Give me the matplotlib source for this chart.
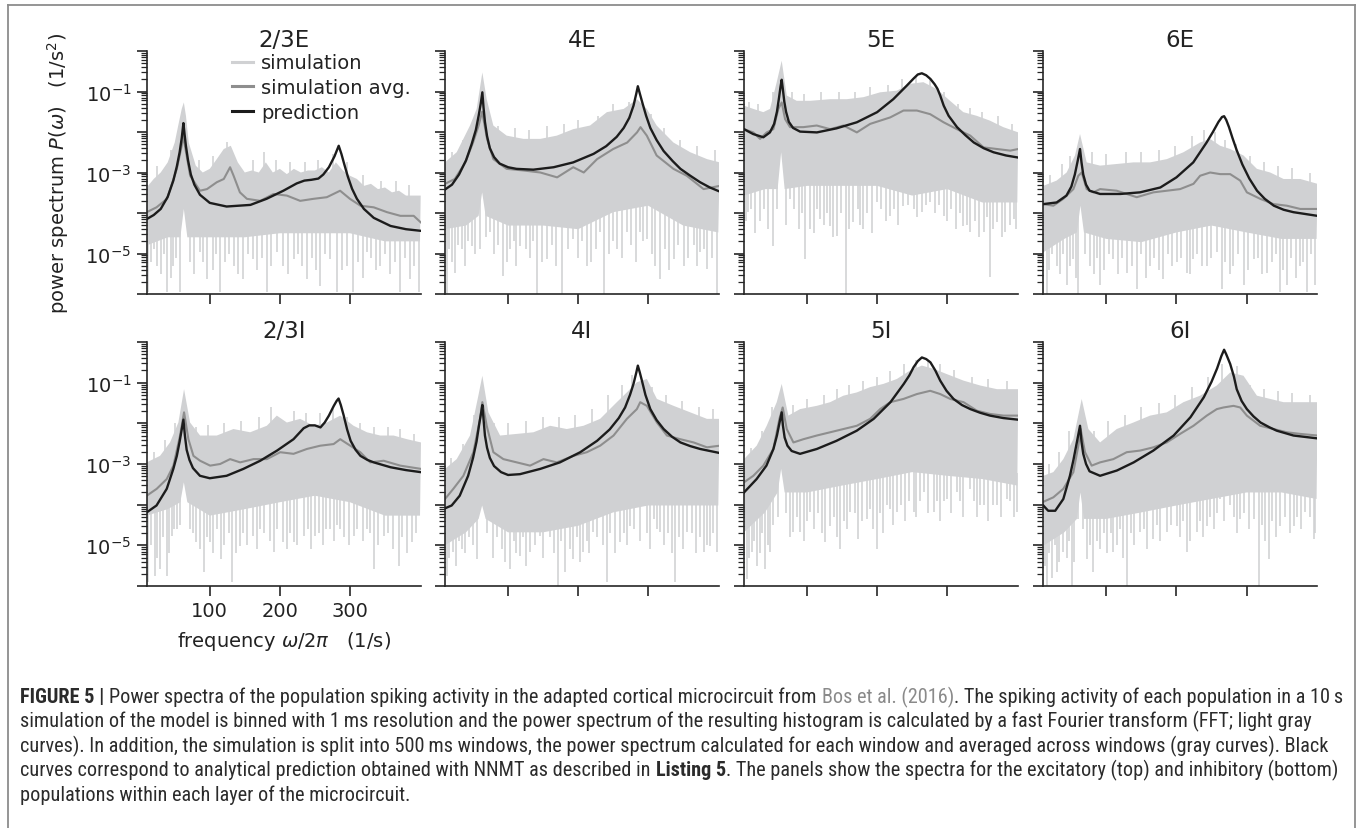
import numpy as np
import matplotlib
matplotlib.use('Agg')
import matplotlib.pyplot as plt
from matplotlib.lines import Line2D
import matplotlib.transforms as mtransforms
from matplotlib.ticker import LogLocator, NullFormatter

plt.rcParams['font.family'] = ['DejaVu Sans']
plt.rcParams['mathtext.fontset'] = 'dejavusans'

# ---------------- data (values as log10 of power, 1/s^2) ----------------
panel_titles = ['2/3E', '4E', '5E', '6E', '2/3I', '4I', '5I', '6I']
x_ticks = [100, 200, 300]
y_tick_exps = [-6, -5, -4, -3, -2, -1, 0]
y_tick_labels = ['', '$10^{-5}$', '', '$10^{-3}$', '', '$10^{-1}$', '']
legend_labels = ['simulation', 'simulation avg.', 'prediction']
floor_f = [10, 40, 58, 63, 68, 100, 150, 200, 250, 300, 350, 400]

# 2/3E
pred_23E_f = [10, 20, 30, 40, 48, 53, 57, 60, 62.4, 64, 66, 69, 73, 78, 86, 100, 124, 158, 181, 205, 224, 235, 245, 255, 262, 270, 278, 284, 288, 292, 297, 303, 310, 320, 334, 358, 380, 401]
pred_23E_v = [-4.15, -4.05, -3.9, -3.6, -3.2, -2.85, -2.5, -2.15, -1.78, -2.05, -2.35, -2.7, -3.05, -3.3, -3.55, -3.75, -3.84, -3.80, -3.65, -3.45, -3.27, -3.2, -3.18, -3.15, -3.05, -2.87, -2.6, -2.34, -2.55, -2.8, -3.1, -3.4, -3.65, -3.9, -4.12, -4.32, -4.4, -4.44]
avg_23E_f = [10, 24, 39, 53, 60, 62, 72, 86, 96, 110, 120, 129, 134, 143, 153, 172, 191, 210, 229, 248, 267, 286, 300, 315, 334, 353, 372, 391, 401]
avg_23E_v = [-3.98, -3.86, -3.65, -2.91, -2.34, -2.09, -3.08, -3.45, -3.41, -3.24, -3.16, -2.87, -3.08, -3.49, -3.65, -3.70, -3.53, -3.57, -3.70, -3.65, -3.61, -3.45, -3.65, -3.82, -3.86, -3.98, -4.07, -4.07, -4.23]
top_23E_f = [10, 20, 30, 40, 50, 55, 60, 63, 66, 70, 80, 90, 100, 110, 120, 130, 140, 150, 160, 170, 180, 190, 200, 210, 220, 230, 240, 250, 260, 270, 280, 290, 300, 310, 320, 330, 340, 350, 360, 370, 380, 390, 401]
top_23E_v = [-3.37, -3.16, -3.0, -2.75, -2.26, -1.84, -1.43, -1.27, -1.60, -2.26, -2.83, -3.0, -2.91, -2.67, -2.42, -2.34, -2.75, -3.0, -2.95, -3.0, -2.75, -3.0, -2.91, -3.04, -2.91, -3.0, -2.95, -2.95, -2.87, -3.0, -2.75, -2.95, -3.08, -3.16, -3.33, -3.28, -3.41, -3.37, -3.49, -3.45, -3.57, -3.57, -3.57]
floor_23E = [-4.8, -4.6, -4.6, -3.9, -4.6, -4.6, -4.6, -4.5, -4.5, -4.5, -4.7, -4.7]
dips_23E_f = [12, 24, 39, 48, 58, 86, 96, 115, 134, 148, 162, 181, 196, 205, 219.5, 239, 258, 272, 281, 296, 305, 324, 343, 372, 386, 398,
              16, 20, 30, 35, 44, 52, 72, 78, 90, 104, 109, 122, 128, 140, 155, 168, 175, 188, 212, 226, 232, 246, 252, 265, 288, 312, 318, 330, 337, 350, 357, 365, 379, 392]
dips_23E_v = [-5.96, -5.3, -5.96, -5.3, -5.96, -4.97, -5.63, -5.96, -5.3, -5.63, -5.14, -5.96, -4.97, -5.3, -5.14, -5.63, -5.8, -5.14, -5.96, -5.3, -5.96, -4.97, -5.3, -5.96, -5.63, -5.96,
              -5.2, -4.9, -5.5, -5.0, -5.6, -5.1, -5.2, -5.5, -5.2, -5.4, -5.0, -5.2, -5.0, -5.5, -5.0, -5.4, -5.1, -5.3, -5.5, -5.0, -5.3, -5.1, -5.4, -5.0, -5.4, -5.2, -5.6, -5.1, -5.4, -5.0, -5.5, -5.2, -5.1, -5.3]
ups_23E_f = [25, 45, 85, 105, 125, 162, 178, 195, 215, 236, 255, 276, 296, 318, 345, 366, 385]
ups_23E_v = [-2.85, -2.45, -2.7, -2.6, -2.25, -2.7, -2.5, -2.7, -2.75, -2.75, -2.7, -2.55, -2.75, -3.05, -3.2, -3.2, -3.3]

# 4E
pred_4E_f = [10, 20, 30, 40, 48, 54, 58, 61, 63.3, 65, 67, 70, 74, 80, 88, 100, 112, 136, 165, 193, 222, 240, 255, 265, 273, 279, 283, 285.2, 288, 292, 297, 303, 312, 322, 335, 346, 360, 374, 388, 402]
pred_4E_v = [-3.42, -3.3, -3.05, -2.7, -2.3, -1.95, -1.6, -1.3, -1.02, -1.4, -1.75, -2.1, -2.4, -2.62, -2.78, -2.87, -2.91, -2.93, -2.87, -2.75, -2.54, -2.35, -2.12, -1.9, -1.65, -1.35, -1.05, -0.87, -1.05, -1.3, -1.6, -1.9, -2.2, -2.47, -2.72, -2.91, -3.08, -3.24, -3.37, -3.47]
avg_4E_f = [10, 24, 39, 50, 58, 63, 70, 79, 98, 122, 146, 170, 193, 208, 227, 250, 270, 284, 289, 298, 312, 336, 355, 379, 402]
avg_4E_v = [-3.28, -3.16, -2.75, -2.26, -1.84, -1.5, -2.17, -2.67, -2.91, -2.95, -3.0, -3.12, -2.87, -3.0, -2.67, -2.42, -2.26, -2.01, -1.88, -2.09, -2.58, -2.91, -3.08, -3.41, -3.33]
top_4E_f = [10, 26.7, 45.7, 55.2, 63.3, 69.5, 79, 98, 122, 146, 169.5, 193, 217, 241, 265, 284, 298, 312, 336, 360, 384, 402]
top_4E_v = [-2.75, -2.50, -1.84, -1.43, -0.53, -1.19, -1.84, -2.09, -2.17, -2.17, -2.09, -1.93, -1.84, -1.51, -1.43, -1.19, -1.43, -1.84, -2.26, -2.50, -2.67, -2.75]
floor_4E = [-4.40, -4.31, -4.07, -3.49, -4.07, -4.31, -4.31, -4.40, -3.98, -3.82, -4.31, -4.48]
dips_4E_f = [12.4, 24.3, 33.8, 48.1, 60, 74.3, 93.3, 102.9, 117.1, 141, 155.2, 176.7, 193.3, 212.4, 231.4, 236.2, 255.2, 269.5, 288.6, 298.1, 317.1, 336.2, 350.5, 374.3, 383.8, 398.1,
             16, 20, 29, 38, 43, 53, 68, 80, 86, 98, 108, 112, 125, 131, 136, 148, 162, 168, 185, 200, 206, 218, 225, 244, 250, 262, 276, 282, 293, 305, 310, 324, 330, 343, 357, 365, 370, 379, 391]
dips_4E_v = [-6.0, -5.47, -4.89, -4.81, -4.89, -4.48, -5.55, -4.89, -4.81, -6.0, -5.14, -6.0, -4.64, -5.30, -4.48, -6.0, -4.89, -4.48, -4.48, -4.64, -5.63, -5.14, -5.30, -4.97, -5.38, -6.0,
             -4.9, -5.2, -4.8, -5.3, -4.7, -5.0, -4.6, -5.0, -4.8, -5.2, -4.7, -5.3, -4.9, -5.1, -4.7, -5.2, -4.8, -5.3, -4.9, -5.1, -4.7, -5.2, -4.9, -5.0, -4.7, -5.1, -4.8, -5.2, -4.7, -5.0, -5.3, -4.9, -5.4, -4.8, -5.1, -4.8, -5.3, -4.9, -5.1]
ups_4E_f = [20, 35, 50, 85, 110, 130, 155, 180, 200, 228, 250, 272, 304, 322, 345, 370, 395]
ups_4E_v = [-2.5, -2.2, -1.7, -1.85, -1.9, -1.95, -1.85, -1.8, -1.7, -1.6, -1.3, -1.25, -1.55, -1.9, -2.2, -2.35, -2.45]

# 5E
pred_5E_f = [10, 23, 37.6, 47, 53, 57, 60, 62, 63.8, 65.5, 67.5, 70, 74, 80, 90, 114, 142, 171, 200, 223, 242, 252, 258, 263.8, 270, 276, 282, 286, 290, 295, 302, 314, 326, 338, 352, 366, 384, 401]
pred_5E_v = [-1.93, -2.05, -2.13, -2.01, -1.8, -1.5, -1.15, -0.9, -0.71, -0.95, -1.25, -1.5, -1.75, -1.9, -1.99, -2.01, -1.91, -1.76, -1.51, -1.19, -0.86, -0.68, -0.58, -0.55, -0.6, -0.69, -0.82, -0.93, -1.1, -1.35, -1.6, -1.88, -2.08, -2.26, -2.4, -2.50, -2.58, -2.63]
avg_5E_f = [10, 23.3, 32.9, 42.4, 51.9, 59, 63.8, 68.6, 75.7, 94.8, 113.8, 132.9, 151.9, 171, 190, 204.3, 218.6, 237.6, 256.7, 275.7, 294.8, 313.8, 332.9, 351.9, 371, 390, 401.4]
avg_5E_v = [-1.93, -2.01, -2.17, -2.01, -1.93, -1.43, -1.27, -1.68, -1.88, -1.88, -1.84, -1.93, -1.84, -2.01, -1.80, -1.72, -1.64, -1.47, -1.47, -1.56, -1.76, -1.93, -2.09, -2.38, -2.42, -2.46, -2.42]
top_5E_f = [10, 23.3, 37.6, 47.1, 56.7, 63.8, 71, 85.2, 104.3, 132.9, 156.7, 180.5, 204.3, 228, 247, 266, 285, 304, 323, 342, 361, 380, 401.4]
top_5E_v = [-1.35, -1.43, -1.51, -1.43, -0.77, -0.24, -1.10, -1.23, -1.23, -1.19, -1.19, -1.14, -1.02, -0.98, -0.81, -0.77, -0.94, -1.23, -1.51, -1.60, -1.72, -1.88, -2.01]
floor_5E = [-3.57, -3.41, -3.41, -2.5, -3.41, -3.33, -3.33, -3.33, -3.57, -3.41, -3.74, -3.74]
dips_5E_f = [16, 33, 52, 76, 97, 104, 118.6, 133, 142, 155.7, 166, 180.5, 199.5, 218.6, 237.6, 252, 263.8, 275.7, 294.8, 323, 333, 352, 361.4, 371, 383, 394.8,
             13, 20, 26, 38, 44, 57, 70, 82, 88, 93, 110, 114, 124, 128, 137, 148, 160, 172, 176, 186, 192, 206, 212, 224, 230, 244, 257, 270, 282, 288, 300, 306, 312, 318, 328, 340, 346, 357, 366, 378, 389, 398]
dips_5E_v = [-3.98, -4.19, -4.81, -3.65, -5.14, -4.40, -4.15, -4.31, -4.56, -6.0, -4.23, -4.40, -3.74, -4.07, -3.82, -3.90, -3.98, -3.74, -4.07, -4.31, -4.48, -4.48, -5.59, -4.23, -4.48, -4.15,
             -4.2, -3.9, -4.5, -3.9, -4.4, -3.9, -4.3, -3.9, -4.4, -4.0, -4.5, -3.9, -4.3, -4.0, -4.6, -4.0, -4.4, -3.9, -4.3, -4.0, -4.5, -3.9, -4.2, -3.9, -4.3, -3.8, -4.1, -3.8, -4.0, -3.8, -4.2, -3.9, -4.4, -4.0, -4.3, -4.2, -4.6, -4.1, -4.4, -4.6, -4.3, -4.4]
ups_5E_f = [17, 30, 52, 78, 95, 120, 145, 168, 190, 215, 235, 255, 275, 295, 315, 332, 350, 372, 392]
ups_5E_v = [-1.25, -1.3, -1.0, -1.0, -1.05, -1.0, -1.0, -1.0, -0.9, -0.85, -0.7, -0.62, -0.7, -1.0, -1.3, -1.4, -1.5, -1.6, -1.8]

# 6E
pred_6E_f = [10, 29, 43, 50, 55, 59, 62.4, 64.5, 67, 71, 76, 91, 120, 148, 177, 200, 224, 243, 252, 260, 265, 268, 271, 275, 280, 286, 294, 304, 315, 326, 339, 353, 367, 401]
pred_6E_v = [-3.78, -3.74, -3.57, -3.35, -3.05, -2.72, -2.42, -2.75, -3.05, -3.3, -3.45, -3.53, -3.53, -3.49, -3.37, -3.12, -2.75, -2.26, -2.0, -1.75, -1.63, -1.61, -1.7, -1.88, -2.15, -2.45, -2.8, -3.15, -3.45, -3.65, -3.82, -3.92, -3.98, -4.07]
avg_6E_f = [10, 24.3, 38.6, 52.9, 60, 64.8, 71.9, 81.4, 91, 114.8, 143.3, 167.1, 186.2, 205.2, 224.3, 233.8, 248.1, 262.4, 276.7, 291, 300.5, 319.5, 338.6, 357.6, 376.7, 401.4]
avg_6E_v = [-3.78, -3.82, -3.65, -3.41, -3.08, -3.0, -3.41, -3.49, -3.41, -3.45, -3.61, -3.49, -3.45, -3.41, -3.28, -3.08, -3.0, -3.04, -3.04, -3.20, -3.49, -3.65, -3.78, -3.82, -3.90, -3.90]
top_6E_f = [10, 29, 43.3, 55.2, 62.4, 71.9, 91, 114.8, 138.6, 162.4, 186.2, 210, 233.8, 248, 262.4, 276.7, 295.7, 314.8, 333.8, 352.9, 376.7, 401.4]
top_6E_v = [-3.33, -3.20, -3.0, -2.58, -2.05, -2.75, -2.83, -2.79, -2.75, -2.75, -2.67, -2.50, -2.26, -2.17, -2.34, -2.42, -2.58, -2.91, -3.0, -3.16, -3.16, -3.28]
floor_6E = [-4.97, -4.64, -4.48, -3.82, -4.48, -4.64, -4.72, -4.48, -4.31, -4.48, -4.64, -4.64]
dips_6E_f = [14.8, 29, 43.3, 52.9, 60, 76.7, 91, 110, 129, 143.3, 162.4, 181.4, 200.5, 214.8, 224.3, 243.3, 257.6, 264.8, 281.4, 295.7, 310, 329, 348.1, 357.6, 376.7, 386.2, 398.1,
             18, 22, 34, 38, 48, 56, 70, 82, 86, 97, 104, 116, 122, 136, 150, 156, 168, 175, 188, 194, 207, 219, 230, 237, 250, 270, 276, 288, 302, 316, 322, 336, 342, 352, 364, 370, 381, 392]
dips_6E_v = [-6.0, -5.30, -5.79, -5.14, -6.0, -5.30, -5.79, -5.14, -5.47, -5.88, -5.30, -5.63, -5.22, -5.47, -5.14, -5.30, -4.97, -5.88, -5.30, -5.79, -5.14, -5.47, -5.96, -5.79, -5.30, -5.96, -5.79,
             -5.4, -5.0, -5.5, -5.0, -5.3, -5.6, -5.0, -5.5, -5.1, -5.4, -5.0, -5.5, -5.1, -5.3, -5.0, -5.6, -5.1, -5.4, -5.0, -5.3, -5.1, -5.5, -5.0, -5.3, -5.1, -5.2, -5.5, -5.0, -5.4, -5.1, -5.5, -5.2, -5.0, -5.4, -5.1, -5.6, -5.2, -5.0]
ups_6E_f = [20, 36, 48, 80, 100, 128, 150, 175, 198, 222, 240, 255, 270, 285, 305, 325, 345, 365, 390]
ups_6E_v = [-3.05, -2.8, -2.6, -2.5, -2.55, -2.5, -2.5, -2.45, -2.35, -2.1, -1.95, -2.0, -2.2, -2.3, -2.6, -2.75, -2.85, -2.9, -3.0]

# 2/3I
pred_23I_f = [10, 24, 38.6, 48, 53, 57, 60, 62.4, 64.5, 67, 71, 76, 86, 100, 124, 148, 172, 196, 219.5, 234, 242, 250, 258, 264, 270, 277, 281, 283.8, 287, 291, 296, 301, 308, 315, 325, 334, 358, 380, 401]
pred_23I_v = [-4.19, -4.02, -3.61, -3.12, -2.8, -2.45, -2.15, -1.91, -2.3, -2.65, -2.9, -3.1, -3.29, -3.35, -3.29, -3.12, -2.92, -2.67, -2.39, -2.12, -2.05, -2.05, -2.10, -1.98, -1.81, -1.57, -1.45, -1.39, -1.55, -1.8, -2.15, -2.43, -2.65, -2.80, -2.9, -2.96, -3.08, -3.15, -3.20]
avg_23I_f = [10, 24.3, 38.6, 48.1, 57.6, 63.3, 69.5, 76.7, 86.2, 100.5, 114.8, 129, 143.3, 162.4, 181.4, 200.5, 219.5, 238.6, 257.6, 276.7, 286.2, 300.5, 314.8, 329, 348.1, 371.9, 401.4]
avg_23I_v = [-3.78, -3.61, -3.37, -3.04, -2.30, -1.73, -2.39, -2.80, -2.92, -3.04, -3.0, -2.88, -2.96, -2.88, -2.88, -2.71, -2.75, -2.63, -2.55, -2.51, -2.39, -2.55, -2.71, -2.96, -2.92, -3.04, -3.12]
top_23I_f = [10, 29, 43.3, 55.2, 63.3, 71.9, 86.2, 110, 133.8, 157.6, 181.4, 195.7, 210, 229, 248.1, 267.1, 286.2, 305.2, 324.3, 343.3, 362.4, 381.4, 401.4]
top_23I_v = [-2.96, -2.80, -2.47, -1.98, -1.16, -1.98, -2.30, -2.30, -2.14, -2.22, -2.06, -1.81, -1.98, -1.89, -2.06, -1.98, -1.81, -2.06, -2.22, -2.30, -2.30, -2.39, -2.47]
floor_23I = [-4.27, -4.11, -3.94, -3.45, -3.94, -4.27, -4.11, -3.94, -3.78, -3.94, -4.27, -4.27]
dips_23I_f = [12.4, 21.9, 29, 38.6, 45.7, 52.9, 71.4, 81, 91.4, 100, 116.7, 132.4, 143.3, 162.4, 171.9, 191, 205.2, 219.5, 233.8, 250.5, 271.9, 286.2, 305.2, 324.3, 333.8, 348.1, 369.5, 388.6,
              16, 25, 33, 42, 49, 57, 76, 86, 96, 105, 111, 121, 127, 138, 148, 153, 167, 177, 186, 196, 210, 214, 225, 240, 245, 256, 262, 266, 277, 281, 292, 298, 310, 318, 329, 340, 355, 362, 375, 381, 395]
dips_23I_v = [-5.91, -5.75, -5.58, -5.75, -4.76, -4.60, -4.60, -4.93, -5.66, -4.93, -5.34, -5.91, -5.01, -4.76, -4.60, -5.17, -4.93, -4.93, -4.76, -4.76, -4.60, -4.60, -4.76, -4.60, -5.58, -4.76, -5.50, -4.93,
              -5.0, -5.3, -4.8, -5.2, -4.6, -4.5, -4.7, -5.1, -4.8, -5.2, -4.6, -5.0, -4.7, -5.2, -4.7, -5.0, -5.1, -4.7, -4.9, -4.6, -5.1, -4.7, -5.0, -4.6, -5.1, -4.7, -5.0, -4.6, -4.9, -4.5, -4.8, -5.0, -4.6, -4.9, -4.7, -5.0, -4.7, -5.1, -4.8, -5.2, -4.7]
ups_23I_f = [20, 36, 50, 80, 98, 120, 145, 170, 188, 220, 238, 258, 276, 296, 315, 335, 355, 372, 392]
ups_23I_v = [-2.7, -2.4, -2.0, -2.1, -2.05, -2.0, -1.95, -1.85, -1.6, -1.7, -1.75, -1.75, -1.65, -1.85, -2.0, -2.1, -2.1, -2.15, -2.25]

# 4I
pred_4I_f = [10, 19.5, 31, 43, 50, 55, 59, 61.5, 63.3, 65, 67, 70, 74, 80, 90, 100, 117, 146, 174, 203, 227, 245, 258, 267, 274, 279, 283, 285.2, 288, 291, 296, 303, 312, 322, 334, 346, 360, 374, 402]
pred_4I_v = [-4.09, -4.02, -3.78, -3.29, -2.85, -2.45, -2.0, -1.75, -1.55, -1.9, -2.3, -2.6, -2.85, -3.05, -3.2, -3.27, -3.25, -3.12, -2.96, -2.71, -2.43, -2.15, -1.87, -1.61, -1.3, -1.03, -0.75, -0.58, -0.75, -0.95, -1.3, -1.65, -1.92, -2.14, -2.33, -2.47, -2.56, -2.63, -2.73]
avg_4I_f = [10, 21.9, 36.2, 50.5, 60, 63.3, 69.5, 79, 93.3, 112.4, 131.4, 150.5, 169.5, 193.3, 212.4, 231.4, 250.5, 269.5, 283.8, 288.6, 298.1, 312.4, 326.7, 345.7, 364.8, 383.8, 401.9]
avg_4I_v = [-3.86, -3.61, -3.29, -2.71, -1.89, -1.48, -2.06, -2.71, -2.88, -2.96, -3.04, -2.88, -2.96, -2.80, -2.71, -2.55, -2.30, -1.89, -1.65, -1.48, -1.57, -1.98, -2.30, -2.39, -2.47, -2.59, -2.55]
top_4I_f = [10, 26.7, 45.7, 57.6, 63.3, 71.9, 88.6, 112.4, 136.2, 160, 183.8, 207.6, 231.4, 255.2, 269.5, 283.8, 298.1, 312.4, 336.2, 360, 383.8, 401.9]
top_4I_v = [-3.12, -2.88, -2.30, -1.32, -0.83, -1.73, -2.30, -2.26, -2.22, -2.06, -2.14, -2.06, -1.89, -1.48, -1.24, -0.99, -0.91, -1.40, -1.57, -1.73, -1.89, -1.89]
floor_4I = [-5.0, -4.68, -4.35, -4.02, -4.35, -4.68, -4.68, -4.52, -4.19, -4.02, -4.02, -4.02]
dips_4I_f = [12.4, 21.9, 33.8, 55.2, 74.3, 91, 102.9, 117.1, 131.4, 145.7, 155.2, 171.9, 181.4, 193.3, 207.6, 221.9, 240.9, 260, 274.3, 293.3, 307.6, 317.1, 338.6, 355.2, 379, 388.6, 398.1,
             16, 26, 30, 38, 44, 50, 70, 78, 84, 96, 108, 112, 122, 126, 138, 150, 160, 166, 176, 188, 198, 202, 212, 216, 227, 235, 246, 252, 265, 270, 280, 288, 298, 302, 312, 322, 328, 334, 344, 350, 362, 368, 374, 384, 393]
dips_4I_v = [-5.75, -5.17, -5.09, -5.34, -4.19, -5.09, -5.58, -5.25, -5.17, -4.76, -4.52, -5.99, -5.66, -5.34, -5.17, -4.68, -5.91, -4.93, -4.52, -4.02, -4.35, -4.68, -5.91, -4.68, -5.17, -5.01, -5.17,
             -5.3, -5.5, -4.9, -5.2, -4.8, -5.0, -4.7, -5.3, -4.8, -5.4, -4.9, -5.2, -4.8, -5.5, -5.0, -5.3, -4.8, -5.2, -4.9, -5.1, -4.8, -5.4, -4.9, -5.2, -4.8, -5.0, -4.7, -5.2, -4.7, -5.0, -4.6, -4.9, -4.7, -5.1, -4.6, -5.0, -4.7, -5.2, -4.8, -5.1, -4.7, -5.2, -4.8, -5.0, -4.7]
ups_4I_f = [18, 36, 52, 80, 100, 125, 150, 172, 196, 220, 243, 262, 277, 305, 325, 348, 372, 392]
ups_4I_v = [-2.85, -2.5, -1.8, -2.0, -2.0, -1.95, -1.85, -1.85, -1.8, -1.65, -1.3, -1.05, -0.8, -1.1, -1.3, -1.45, -1.6, -1.65]

# 5I
pred_5I_f = [10, 28, 42, 52, 57, 60.5, 63.8, 65.5, 68, 72, 78, 90, 114, 142, 171, 195, 219, 238, 246, 252, 258, 263.8, 270, 276, 283, 290, 299, 309, 321, 333, 347, 361, 380, 401]
pred_5I_v = [-3.70, -3.37, -3.04, -2.63, -2.3, -2.0, -1.73, -2.05, -2.35, -2.55, -2.68, -2.75, -2.63, -2.43, -2.18, -1.89, -1.48, -1.03, -0.82, -0.62, -0.47, -0.38, -0.42, -0.50, -0.7, -0.95, -1.2, -1.40, -1.55, -1.65, -1.74, -1.81, -1.87, -1.91]
avg_5I_f = [10, 23.3, 37.6, 51.9, 60.5, 65.2, 71, 80.5, 94.8, 113.8, 132.9, 151.9, 171, 190, 204.3, 218.6, 237.6, 256.7, 275.7, 290, 304.3, 323.3, 342.4, 361.4, 380.5, 401.4]
avg_5I_v = [-3.45, -3.29, -3.04, -2.63, -1.89, -1.61, -2.14, -2.47, -2.39, -2.30, -2.22, -2.14, -2.06, -1.89, -1.65, -1.48, -1.40, -1.28, -1.20, -1.28, -1.40, -1.48, -1.69, -1.77, -1.81, -1.81]
top_5I_f = [10, 28.1, 42.4, 56.7, 63.8, 73.3, 90, 113.8, 132.9, 151.9, 171, 190, 209, 228.1, 247.1, 263.8, 280.5, 299.5, 323.3, 347.1, 371, 401.4]
top_5I_v = [-2.88, -2.55, -2.06, -1.48, -1.03, -1.81, -1.65, -1.57, -1.48, -1.32, -1.24, -1.11, -1.03, -0.91, -0.70, -0.58, -0.66, -0.79, -0.95, -1.07, -1.16, -1.16]
floor_5I = [-4.68, -4.19, -3.70, -3.12, -3.70, -3.70, -3.53, -3.37, -3.20, -3.29, -3.37, -3.53]
dips_5I_f = [13.8, 21, 28.1, 40, 47.1, 80.5, 90, 104.3, 125.7, 132.9, 147.1, 161.4, 173.3, 185.2, 199.5, 213.8, 228.1, 251.9, 266.2, 280.5, 299.5, 313.8, 332.9, 347.1, 371, 385.2, 399.5,
             17, 24, 33, 36, 44, 52, 58, 70, 76, 86, 96, 100, 110, 116, 121, 138, 142, 152, 157, 168, 178, 190, 194, 204, 208, 218, 222, 234, 240, 246, 256, 261, 272, 285, 290, 295, 305, 318, 322, 338, 342, 352, 358, 366, 377, 390, 395]
dips_5I_v = [-5.83, -5.17, -5.50, -5.58, -5.17, -4.68, -4.68, -4.19, -4.93, -4.52, -5.09, -4.19, -4.84, -4.35, -5.09, -4.02, -4.19, -4.19, -3.70, -4.19, -3.86, -3.70, -3.61, -4.02, -4.02, -3.86, -4.19,
             -5.3, -4.9, -5.2, -4.7, -5.0, -4.5, -4.3, -4.2, -4.8, -4.3, -4.9, -4.4, -4.6, -4.2, -4.7, -4.3, -4.8, -4.4, -4.6, -4.2, -4.4, -4.1, -4.6, -4.2, -4.7, -4.1, -4.5, -4.0, -4.4, -3.9, -4.3, -3.9, -4.2, -3.9, -4.4, -3.9, -4.2, -3.9, -4.3, -3.9, -4.3, -4.0, -4.4, -4.0, -4.3, -3.9, -4.3]
ups_5I_f = [20, 35, 50, 80, 100, 124, 142, 160, 180, 200, 218, 238, 255, 272, 290, 310, 335, 358, 385]
ups_5I_v = [-2.6, -2.2, -1.6, -1.55, -1.4, -1.3, -1.15, -1.05, -0.95, -0.85, -0.72, -0.55, -0.45, -0.45, -0.55, -0.7, -0.85, -0.9, -0.95]

# 6I
pred_6I_f = [10, 17, 27, 38.6, 48, 53, 57.5, 62.4, 64.5, 67, 71, 76, 91, 115, 139, 167, 196, 220, 239, 250, 258, 264, 268, 271, 276.7, 282, 286, 293, 300.5, 310, 320, 333, 343, 367, 401]
pred_6I_v = [-4.02, -4.15, -4.15, -3.86, -3.29, -2.9, -2.5, -2.06, -2.45, -2.75, -3.0, -3.18, -3.29, -3.16, -2.96, -2.67, -2.30, -1.85, -1.36, -0.98, -0.65, -0.35, -0.19, -0.3, -0.54, -0.85, -1.16, -1.45, -1.65, -1.83, -1.98, -2.1, -2.18, -2.30, -2.37]
avg_6I_f = [10, 24.3, 38.6, 52.9, 60, 63.3, 69.5, 79, 91, 110, 129, 148.1, 167.1, 186.2, 205.2, 224.3, 243.3, 257.6, 267.1, 281.4, 291, 300.5, 319.5, 338.6, 357.6, 376.7, 401.4]
avg_6I_v = [-3.93, -3.82, -3.61, -3.20, -2.55, -2.14, -2.71, -3.04, -2.96, -2.88, -2.71, -2.67, -2.59, -2.47, -2.26, -2.06, -1.81, -1.65, -1.61, -1.57, -1.61, -1.81, -2.06, -2.14, -2.22, -2.26, -2.30]
top_6I_f = [10, 24.3, 38.6, 52.9, 64.8, 74.3, 91, 114.8, 138.6, 162.4, 186.2, 210, 233.8, 257.6, 276.7, 295.7, 314.8, 333.8, 352.9, 376.7, 401.4]
top_6I_v = [-3.29, -3.20, -2.88, -2.39, -1.40, -2.14, -2.47, -2.14, -1.98, -1.81, -1.73, -1.48, -1.32, -1.07, -0.75, -0.83, -1.32, -1.40, -1.48, -1.48, -1.48]
floor_6I = [-5.01, -4.68, -4.35, -3.70, -4.35, -4.35, -4.19, -4.02, -3.86, -3.70, -3.70, -3.86]
dips_6I_f = [14.8, 29, 38.6, 50.5, 60, 71.9, 81.4, 91, 110, 129, 148.1, 167.1, 186.2, 200.5, 214.8, 229, 243.3, 262.4, 276.7, 291, 310, 317.1, 331.4, 348.1, 367.1, 383.8, 395.7,
             12, 18, 22, 26, 33, 44, 47, 54, 66, 76, 86, 96, 101, 106, 115, 120, 124, 135, 140, 153, 158, 172, 177, 192, 205, 210, 220, 234, 238, 248, 254, 258, 268, 282, 286, 296, 304, 322, 326, 337, 342, 355, 362, 372, 378, 390, 398]
dips_6I_v = [-5.99, -5.66, -5.17, -5.99, -4.35, -5.34, -5.66, -5.09, -5.17, -5.99, -4.68, -4.84, -4.68, -4.52, -5.17, -4.68, -4.52, -3.86, -4.02, -4.35, -4.35, -5.99, -5.34, -4.52, -4.52, -4.19, -4.84,
             -5.5, -5.2, -5.8, -5.0, -5.4, -5.3, -4.9, -5.4, -4.6, -5.0, -4.9, -4.7, -5.2, -4.7, -5.0, -4.6, -5.3, -4.7, -5.0, -4.6, -5.1, -4.5, -4.9, -4.5, -4.8, -4.4, -4.9, -4.4, -4.8, -4.3, -4.6, -4.2, -4.4, -4.3, -4.7, -4.2, -4.6, -4.5, -4.9, -4.4, -4.8, -4.3, -4.7, -4.3, -4.6, -4.3, -4.7]
ups_6I_f = [18, 32, 46, 82, 102, 126, 150, 175, 198, 222, 245, 265, 287, 305, 325, 345, 365, 390]
ups_6I_v = [-3.0, -2.7, -2.2, -2.2, -1.95, -1.8, -1.6, -1.5, -1.3, -1.1, -0.85, -0.55, -0.6, -1.05, -1.15, -1.2, -1.25, -1.3]

panels = [
    (top_23E_f, top_23E_v, floor_23E, dips_23E_f, dips_23E_v, ups_23E_f, ups_23E_v, avg_23E_f, avg_23E_v, pred_23E_f, pred_23E_v),
    (top_4E_f, top_4E_v, floor_4E, dips_4E_f, dips_4E_v, ups_4E_f, ups_4E_v, avg_4E_f, avg_4E_v, pred_4E_f, pred_4E_v),
    (top_5E_f, top_5E_v, floor_5E, dips_5E_f, dips_5E_v, ups_5E_f, ups_5E_v, avg_5E_f, avg_5E_v, pred_5E_f, pred_5E_v),
    (top_6E_f, top_6E_v, floor_6E, dips_6E_f, dips_6E_v, ups_6E_f, ups_6E_v, avg_6E_f, avg_6E_v, pred_6E_f, pred_6E_v),
    (top_23I_f, top_23I_v, floor_23I, dips_23I_f, dips_23I_v, ups_23I_f, ups_23I_v, avg_23I_f, avg_23I_v, pred_23I_f, pred_23I_v),
    (top_4I_f, top_4I_v, floor_4I, dips_4I_f, dips_4I_v, ups_4I_f, ups_4I_v, avg_4I_f, avg_4I_v, pred_4I_f, pred_4I_v),
    (top_5I_f, top_5I_v, floor_5I, dips_5I_f, dips_5I_v, ups_5I_f, ups_5I_v, avg_5I_f, avg_5I_v, pred_5I_f, pred_5I_v),
    (top_6I_f, top_6I_v, floor_6I, dips_6I_f, dips_6I_v, ups_6I_f, ups_6I_v, avg_6I_f, avg_6I_v, pred_6I_f, pred_6I_v),
]

caption_lines = [
    [("FIGURE 5 |", 'bold', 'dark'), ("Power spectra of the population spiking activity in the adapted cortical microcircuit from", 'normal', 'dark'),
     ("Bos et al. (2016)", 'normal', 'link'), ("\b. The spiking activity of each population in a 10\u2009s", 'normal', 'dark')],
    [("simulation of the model is binned with 1\u2009ms resolution and the power spectrum of the resulting histogram is calculated by a fast Fourier transform (FFT; light gray", 'normal', 'dark')],
    [("curves). In addition, the simulation is split into 500\u2009ms windows, the power spectrum calculated for each window and averaged across windows (gray curves). Black", 'normal', 'dark')],
    [("curves correspond to analytical prediction obtained with NNMT as described in", 'normal', 'dark'), ("Listing 5", 'bold', 'dark'),
     ("\b. The panels show the spectra for the excitatory (top) and inhibitory (bottom)", 'normal', 'dark')],
    [("populations within each layer of the microcircuit.", 'normal', 'dark')],
]

# ---------------- style ----------------
C_SIM = '#d0d1d3'
C_AVG = '#8e8e8e'
C_PRED = '#1c1c1c'
C_AX = '#262626'
CAP_COLORS = {'dark': '#2b2b2b', 'link': '#8a8a8a'}
CAP_FONT = ['Liberation Sans Narrow', 'Roboto Condensed', 'Liberation Sans', 'DejaVu Sans']

FW, FH = 1360, 829
fig = plt.figure(figsize=(FW / 100, FH / 100), dpi=100)

lefts = [146.7, 445.0, 744.0, 1043.3]
AW = 274.0
rows = [(52.0, 295.0), (343.0, 587.0)]

axes = []
for i, (tf, tv, fl, df, dv, uf, uv, af, av, pf, pv) in enumerate(panels):
    r, c = divmod(i, 4)
    ytop, ybot = rows[r]
    ax = fig.add_axes([lefts[c] / FW, 1 - ybot / FH, AW / FW, (ybot - ytop) / FH])
    axes.append(ax)
    ax.set_yscale('log')
    poly_f = np.concatenate([np.array(tf), np.array(floor_f)[::-1]])
    poly_v = np.concatenate([np.array(tv), np.array(fl)[::-1]])
    ax.fill(poly_f, 10.0 ** poly_v, color=C_SIM, lw=0, zorder=1)
    dip_top = np.interp(df, floor_f, fl) + 0.3
    ax.vlines(df, 10.0 ** np.array(dv), 10.0 ** dip_top, color=C_SIM, lw=1.15, zorder=1)
    up_base = np.interp(uf, tf, tv) - 0.3
    ax.vlines(uf, 10.0 ** up_base, 10.0 ** np.array(uv), color=C_SIM, lw=1.15, zorder=1)
    ax.plot(af, 10.0 ** np.array(av), color=C_AVG, lw=1.5, zorder=2)
    ax.plot(pf, 10.0 ** np.array(pv), color=C_PRED, lw=1.7, zorder=3, solid_joinstyle='round')

    ax.set_xlim(10, 401)
    ax.set_ylim(1e-6, 1)
    for s in ['top', 'right']:
        ax.spines[s].set_visible(False)
    for s in ['left', 'bottom']:
        ax.spines[s].set_linewidth(1.2)
        ax.spines[s].set_color(C_AX)
    ax.set_yticks([10.0 ** k for k in y_tick_exps])
    ax.set_yticklabels(y_tick_labels if c == 0 else [])
    ax.yaxis.set_minor_locator(LogLocator(base=10, subs=np.arange(2, 10), numticks=30))
    ax.yaxis.set_minor_formatter(NullFormatter())
    ax.set_xticks(x_ticks)
    ax.set_xticklabels([str(t) for t in x_ticks] if i == 4 else [])
    ax.tick_params(axis='both', which='major', length=7, width=1.2, color=C_AX,
                   labelsize=14, labelcolor='#222222', direction='out', pad=4)
    ax.tick_params(axis='y', which='minor', length=4, width=0.9, color=C_AX)
    ax.set_title(panel_titles[i], fontsize=16.5, color='#222222', pad=3)

handles = [Line2D([], [], color=C_SIM, lw=2.2), Line2D([], [], color=C_AVG, lw=2.2), Line2D([], [], color=C_PRED, lw=2.2)]
axes[0].legend(handles, legend_labels, loc='upper left', bbox_to_anchor=(0.31, 0.99), frameon=False,
               fontsize=14, handlelength=1.1, handletextpad=0.4, labelspacing=0.3, borderpad=0,
               borderaxespad=0, labelcolor='#222222')

axes[0].set_ylabel('power spectrum $P(\\omega)$   (1/s$^2$)', fontsize=14, color='#222222')
axes[0].yaxis.set_label_coords(-0.275, 0.5)
axes[4].set_xlabel('frequency $\\omega/2\\pi$   (1/s)', fontsize=14, color='#222222')
axes[4].xaxis.set_label_coords(0.5, -0.175)

frame_c = '#8c8c8c'
fig.add_artist(Line2D([8 / FW, 8 / FW], [0, 1 - 6 / FH], transform=fig.transFigure, color=frame_c, lw=1.3))
fig.add_artist(Line2D([8 / FW, 1355 / FW], [1 - 6 / FH, 1 - 6 / FH], transform=fig.transFigure, color=frame_c, lw=1.3))
fig.add_artist(Line2D([1355 / FW, 1355 / FW], [0, 1 - 6 / FH], transform=fig.transFigure, color=frame_c, lw=1.3))

renderer = fig.canvas.get_renderer()
ident = mtransforms.IdentityTransform()


def text_w(s, size, weight):
    t = fig.text(0, 0, s, fontsize=size, fontweight=weight, family=CAP_FONT, transform=ident)
    w = t.get_window_extent(renderer).width
    t.remove()
    return w


def line_width(segs, size):
    sp = text_w('a a', size, 'normal') - text_w('aa', size, 'normal')
    total = 0.0
    for k, (s, wt, col) in enumerate(segs):
        nospace = s.startswith('\b')
        s = s.lstrip('\b')
        if k > 0 and not nospace:
            total += sp
        total += text_w(s, size, wt)
    return total


base = 12.0
w1 = line_width(caption_lines[0], base)
cap_size = base * 1322.0 / w1
cap_x0 = 20.5
cap_baselines = [703, 727.5, 752, 776.5, 801]
sp = text_w('a a', cap_size, 'normal') - text_w('aa', cap_size, 'normal')
for segs, yb in zip(caption_lines, cap_baselines):
    x = cap_x0
    for k, (s, wt, col) in enumerate(segs):
        nospace = s.startswith('\b')
        s = s.lstrip('\b')
        if k > 0 and not nospace:
            x += sp
        t = fig.text(x, FH - yb, s, fontsize=cap_size, fontweight=wt, family=CAP_FONT,
                     color=CAP_COLORS[col], transform=ident, ha='left', va='baseline')
        x += t.get_window_extent(renderer).width

fig.savefig('out.png', dpi=100)
